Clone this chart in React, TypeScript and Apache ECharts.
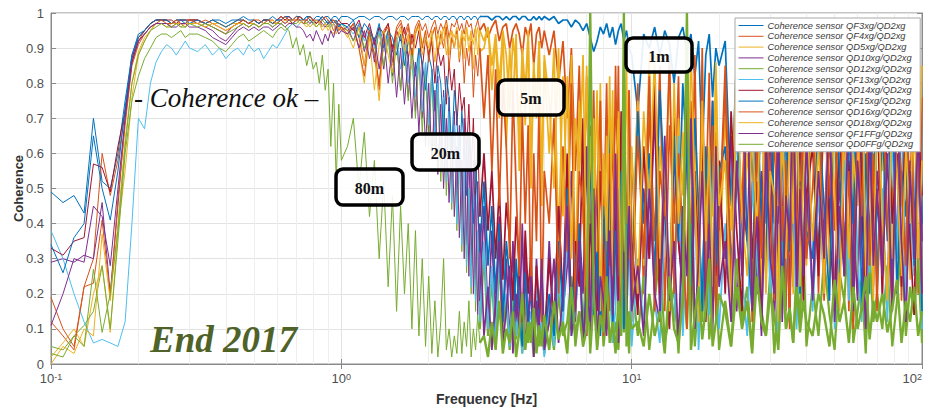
import React, { useEffect, useRef } from "react";
import * as echarts from "echarts";

// Frequency grid [Hz] shared by all sensors
const frequencies = [
  0.10, 0.11, 0.12, 0.13, 0.14, 0.15, 0.16, 0.17, 0.18, 0.19, 0.20, 0.21, 0.22, 0.23, 0.24, 0.25, 0.26, 0.27, 0.28, 0.29, 0.30,
  0.32, 0.34, 0.36, 0.38, 0.40, 0.42, 0.44, 0.46, 0.48, 0.50, 0.52, 0.54, 0.56, 0.58, 0.60, 0.62, 0.64, 0.66, 0.68, 0.70, 0.72, 0.74, 0.76, 0.78, 0.80, 0.82, 0.84, 0.86, 0.88, 0.90, 0.92, 0.94, 0.96, 0.98, 1.00,
  1.05, 1.10, 1.15, 1.20, 1.25, 1.30, 1.35, 1.40, 1.45, 1.50, 1.55, 1.60, 1.65, 1.70, 1.75, 1.80, 1.85, 1.90, 1.95, 2.00, 2.05, 2.10, 2.15, 2.20, 2.25, 2.30, 2.35, 2.40, 2.45, 2.50, 2.55, 2.60, 2.65, 2.70, 2.75, 2.80, 2.85, 2.90, 2.95, 3.00,
  3.1, 3.2, 3.3, 3.4, 3.5, 3.6, 3.7, 3.8, 3.9, 4.0, 4.1, 4.2, 4.3, 4.4, 4.5, 4.6, 4.7, 4.8, 4.9, 5.0,
  5.2, 5.4, 5.6, 5.8, 6.0, 6.2, 6.4, 6.6, 6.8, 7.0, 7.2, 7.4, 7.6, 7.8, 8.0, 8.2, 8.4, 8.6, 8.8, 9.0, 9.2, 9.4, 9.6, 9.8, 10,
  10.5, 11, 11.5, 12, 12.5, 13, 13.5, 14, 14.5, 15, 15.5, 16, 16.5, 17, 17.5, 18, 18.5, 19, 19.5, 20,
  21, 22, 23, 24, 25, 26, 27, 28, 29, 30, 31, 32, 33, 34, 35, 36, 37, 38, 39, 40,
  42, 44, 46, 48, 50, 52, 54, 56, 58, 60, 62, 64, 66, 68, 70,
  73, 76, 79, 82, 85, 88, 91, 94, 97, 100,
];
// index of 3.00 Hz: below it lines are drawn thin, above it the dense noisy part
const noiseStartIndex = 95;

// Coherence values in percent, one entry per frequency
const QF3 = [
  49,46,48,43,70,52,50,60,75,88,94,95,97,98,98,98,97,98,98,97,98,
  98,97,98,98,97,98,98,99,98,98,97,98,98,99,98,98,99,99,98,99,99,98,99,99,98,99,99,98,99,99,98,99,99,98,99,
  99,98,99,99,98,99,99,98,99,99,98,99,99,98,99,99,99,98,99,99,98,99,99,98,99,99,98,99,99,98,99,99,98,99,99,98,99,99,98,99,
  99,99,98,99,99,98,99,98,99,99,98,99,99,98,98,99,98,99,98,99,
  98,99,97,98,98,96,98,97,95,97,93,89,92,96,94,97,93,96,91,95,97,92,95,90,88,
  72,94,90,96,88,95,91,80,93,96,89,94,82,92,60,88,94,76,90,85,
  92,45,88,30,95,55,20,90,40,85,25,93,60,35,88,22,80,50,94,30,
  85,28,92,40,75,18,90,55,25,88,35,80,20,93,45,
  30,86,22,90,50,28,84,35,91,40,
];
const QF4 = [
  12,8,4,22,30,60,48,58,72,86,92,95,97,98,98,98,97,98,98,98,98,
  98,97,98,97,96,97,98,98,97,98,97,98,98,97,98,99,98,98,97,98,99,98,97,98,98,97,98,96,97,98,97,95,96,97,96,
  95,97,93,85,96,92,78,95,97,90,96,98,94,97,91,96,98,95,97,93,96,98,94,97,95,98,93,97,96,98,95,97,94,98,96,97,93,96,98,95,
  97,93,96,98,92,96,97,90,95,97,94,88,96,93,97,85,94,96,90,95,
  88,95,80,92,70,90,55,85,40,82,30,78,20,75,35,80,15,70,25,85,10,65,30,78,12,
  80,20,72,35,85,15,68,40,82,10,75,30,88,22,70,45,83,12,66,38,
  85,25,70,45,90,18,75,35,88,20,65,40,92,15,72,50,86,25,68,42,
  88,20,76,48,92,30,70,15,85,45,90,22,74,38,87,
  25,80,42,93,18,72,50,88,20,76,
];
const QD5 = [
  2,6,10,5,20,28,9,38,55,76,88,92,95,97,97,96,97,97,96,97,97,
  97,96,97,97,96,97,97,98,97,97,96,97,98,97,97,98,97,98,97,98,98,97,96,97,98,96,97,95,96,97,95,94,96,95,96,
  93,96,90,80,94,88,75,92,95,85,93,96,90,94,86,95,97,91,95,88,94,96,89,95,92,97,88,95,93,96,90,95,87,96,92,95,84,93,96,89,
  90,96,78,93,70,95,62,90,75,94,55,88,68,95,50,85,72,92,45,86,
  60,90,35,82,45,88,25,75,40,85,18,70,30,80,12,65,38,78,20,72,45,85,15,60,32,
  75,28,88,18,62,40,85,22,70,48,92,15,66,35,80,20,58,42,86,25,
  70,38,90,22,60,45,85,18,72,50,88,25,64,40,92,20,68,52,84,28,
  74,44,90,24,66,50,86,30,62,20,78,48,92,26,70,
  55,88,30,70,45,90,24,66,50,85,
];
const QD10 = [
  29,30,29,31,30,46,20,45,70,86,92,94,96,97,97,97,96,97,97,96,97,
  97,96,95,93,92,94,96,97,96,97,96,97,97,96,97,98,97,98,97,98,98,97,98,97,98,97,98,97,96,97,98,97,96,97,95,
  96,92,97,89,95,86,96,84,94,82,93,78,92,76,90,72,89,70,86,66,84,62,82,58,78,55,76,50,72,46,68,40,70,34,62,28,58,22,52,18,
  45,12,38,8,42,10,30,5,35,12,28,4,33,10,25,6,30,14,22,3,
  35,10,45,15,28,55,12,40,20,62,8,35,50,15,42,25,68,10,38,22,55,12,45,30,60,
  18,50,30,72,14,45,25,60,35,20,66,12,48,28,75,15,42,58,22,50,
  30,65,15,48,35,82,20,55,28,70,12,45,38,78,18,60,25,72,32,50,
  20,68,35,80,15,52,28,74,40,18,62,30,85,22,55,
  40,20,70,32,88,15,58,28,75,35,
];
const QD12 = [
  5,4,8,11,15,28,10,35,60,75,82,87,90,93,94,94,93,94,95,93,94,
  94,93,92,90,89,91,93,94,92,93,94,95,94,93,95,96,95,96,97,97,98,97,97,98,97,96,97,98,97,96,97,98,97,96,97,
  95,92,96,90,94,88,95,85,93,80,92,78,90,75,88,70,87,66,84,62,82,58,78,52,74,48,70,44,66,38,62,32,56,26,50,20,44,15,38,10,
  32,8,25,5,30,10,18,4,22,7,15,3,20,6,12,2,18,5,10,3,
  14,4,20,8,12,25,5,15,10,30,3,18,8,22,5,14,28,6,12,4,20,9,16,3,24,
  8,25,4,18,32,6,14,22,3,28,10,40,5,20,12,35,7,16,26,4,
  18,5,30,12,22,4,38,15,8,26,3,20,45,10,16,6,28,12,34,5,
  22,8,30,14,4,26,18,40,6,15,24,3,32,12,20,
  10,28,5,18,36,8,22,14,30,6,
];
const QF13 = [
  38,30,20,12,6,7,6,5,12,40,70,67,80,86,89,91,90,88,90,92,90,
  89,91,88,90,87,89,90,88,91,89,90,87,89,91,90,92,94,96,97,96,97,98,97,96,97,98,97,96,97,98,96,97,95,96,97,
  96,94,97,92,96,90,95,89,94,86,93,84,91,80,89,76,88,72,86,68,84,64,80,58,76,52,72,46,68,40,62,34,56,28,50,22,44,18,38,12,
  35,10,28,6,32,14,20,5,26,8,18,3,24,10,15,4,22,8,12,2,
  18,5,25,10,40,8,15,30,6,22,12,45,4,20,35,10,28,6,16,50,8,24,12,38,5,
  30,10,55,18,6,42,25,12,65,8,35,20,50,4,28,45,14,60,22,10,
  40,15,70,25,8,52,30,12,62,20,45,6,75,35,18,55,10,42,28,66,
  15,48,22,80,10,38,58,18,70,30,12,54,26,85,20,
  50,12,66,30,85,18,45,25,72,10,
];
const QD14 = [
  33,31,35,36,57,56,49,62,72,87,93,95,97,98,98,98,98,97,98,98,98,
  98,97,96,95,94,96,97,98,97,98,97,98,98,97,98,99,98,99,98,98,99,98,98,99,98,97,98,99,98,97,98,98,97,98,97,
  97,95,98,93,97,91,96,94,97,89,95,92,96,87,94,90,95,84,93,88,92,80,90,85,88,74,86,78,84,68,80,72,76,60,74,55,70,48,65,42,
  60,38,55,30,50,24,46,35,18,42,28,12,38,20,32,8,28,15,25,6,
  30,10,45,18,60,12,35,22,70,8,40,25,15,55,30,10,65,20,45,12,72,28,18,50,35,
  14,62,30,80,20,48,10,70,35,22,85,15,55,30,68,12,40,75,25,58,
  20,72,38,15,88,30,52,10,65,42,20,80,35,55,12,70,28,90,18,48,
  62,25,85,40,15,70,32,58,12,88,45,20,66,36,78,
  18,75,40,60,22,82,35,14,68,48,
];
const QF15 = [
  34,26,36,40,65,50,41,55,73,88,93,95,97,98,98,98,97,98,98,98,97,
  98,97,98,97,96,97,98,98,97,98,97,98,98,97,98,98,99,98,98,99,98,98,99,98,97,98,98,99,98,97,98,97,98,96,97,
  96,98,93,97,95,92,97,90,95,93,88,94,85,92,89,82,90,86,78,88,84,72,85,80,66,82,76,60,78,70,55,72,62,48,66,52,40,58,45,32,
  52,28,45,20,40,12,35,24,8,30,15,5,26,10,22,4,18,12,28,6,
  20,8,35,15,50,10,28,40,6,22,60,14,32,8,45,20,70,12,38,25,55,10,30,65,18,
  72,40,60,25,78,50,18,65,35,80,58,22,70,45,15,62,38,75,28,55,
  62,28,50,82,35,15,70,45,25,88,40,60,18,75,32,52,85,20,58,38,
  30,72,45,18,85,55,25,68,40,90,15,60,35,78,22,
  68,35,80,20,55,42,90,28,62,15,
];
const QD16 = [
  19,10,5,22,23,41,19,47,68,85,91,94,96,97,98,97,97,98,97,97,98,
  97,98,97,96,95,96,97,98,97,98,98,97,98,98,97,98,99,98,98,99,98,97,98,99,98,98,97,98,99,98,97,98,97,95,96,
  94,97,90,82,95,88,80,94,96,86,95,97,92,96,88,94,97,90,95,86,93,96,88,94,90,96,84,93,90,95,86,93,80,90,85,92,76,88,82,90,
  70,88,55,84,45,80,62,30,78,50,25,72,40,68,18,60,35,75,12,55,
  40,70,20,62,32,80,15,55,45,10,68,28,50,75,8,42,60,22,85,35,12,58,40,78,18,
  65,30,82,15,55,42,88,20,60,35,10,75,48,25,90,18,52,68,12,40,
  78,22,55,40,92,12,62,30,75,48,18,85,35,58,10,70,45,25,82,30,
  50,85,18,65,38,92,25,55,10,72,42,80,28,60,15,
  82,40,15,70,52,28,88,35,60,20,
];
const QD18 = [
  0,5,3,10,8,37,18,40,64,80,89,93,95,97,97,97,96,97,97,96,97,
  97,96,97,96,95,96,97,97,96,97,96,97,97,98,97,97,98,97,98,98,97,98,97,96,97,98,97,96,97,95,96,97,94,96,95,
  94,90,96,85,93,78,91,95,88,83,92,95,89,93,84,94,96,88,93,90,95,86,94,91,96,88,93,95,90,94,87,95,92,96,89,94,91,96,88,95,
  92,96,85,94,80,95,88,72,93,84,65,90,78,94,58,86,70,92,52,88,
  75,50,90,42,82,30,70,55,88,22,65,40,78,15,60,35,82,25,55,70,18,48,85,30,62,
  20,72,45,88,30,58,15,80,40,66,25,90,50,12,75,35,62,22,84,45,
  58,15,80,42,25,70,35,90,20,55,48,12,78,30,65,40,88,22,52,72,
  35,62,20,88,48,15,75,30,60,45,92,25,55,18,82,
  42,18,78,55,25,62,40,85,30,58,
];
const QF1FF = [
  11,20,30,29,45,42,28,50,70,86,92,94,96,97,97,97,96,96,97,97,96,
  96,95,93,92,91,93,95,96,95,96,95,96,96,95,96,97,96,97,97,96,96,95,93,94,92,95,93,91,94,92,95,93,96,94,95,
  94,96,90,95,87,93,84,94,80,91,76,90,74,88,70,86,66,84,62,80,58,78,54,74,50,70,46,66,42,62,36,58,30,64,25,55,20,48,14,40,
  8,22,4,18,35,6,15,28,3,20,10,40,5,14,25,2,18,8,30,4,
  12,30,6,20,45,8,16,35,5,22,12,50,4,25,18,8,38,14,60,6,20,32,10,45,15,
  28,8,50,20,12,65,18,35,6,45,25,70,10,30,55,15,40,8,62,22,
  35,12,58,25,80,15,42,8,60,30,20,72,12,48,35,85,18,50,25,65,
  18,55,30,75,12,45,25,82,15,58,35,10,68,28,50,
  25,60,15,78,35,12,55,30,70,20,
];
const QD0FF = [
  3,2,8,5,27,9,20,38,62,80,88,92,95,96,97,96,96,97,96,96,97,
  96,97,96,95,94,95,96,97,96,97,96,97,97,96,97,97,96,95,90,93,88,91,85,89,84,86,80,88,78,84,62,80,52,74,58,
  62,70,50,66,42,58,30,52,22,48,15,45,20,40,10,38,8,30,5,25,3,18,2,12,30,4,10,2,8,3,15,3,12,5,18,2,10,4,14,6,
  8,2,12,4,18,3,10,6,15,2,9,20,4,12,6,16,3,11,5,14,
  4,18,7,12,3,22,8,15,5,10,100,20,4,14,9,25,6,12,3,18,8,100,5,15,10,
  12,5,20,8,15,3,25,10,6,18,100,4,14,22,7,16,30,5,12,20,
  15,5,22,10,18,3,25,12,8,20,14,4,28,10,16,6,22,9,18,12,
  8,20,14,5,24,12,18,6,22,10,16,25,7,18,12,
  20,9,16,24,6,18,12,22,8,15,
];

const sensorNames = [
  "QF3xg", "QF4xg", "QD5xg", "QD10xg", "QD12xg", "QF13xg",
  "QD14xg", "QF15xg", "QD16xg", "QD18xg", "QF1FFg", "QD0FFg",
];
const sensorValues = [QF3, QF4, QD5, QD10, QD12, QF13, QD14, QF15, QD16, QD18, QF1FF, QD0FF];
const sensorColors = [
  "#0072BD", "#D95319", "#EDB120", "#7E2F8E", "#77AC30", "#4DBEEE",
  "#A2142F", "#0072BD", "#D95319", "#EDB120", "#7E2F8E", "#77AC30",
];
// line width of each sensor in the dense (noisy) high-frequency part
const noiseLineWidths = [1.7, 1.7, 1.7, 1.7, 2.2, 1.7, 1.7, 1.7, 1.7, 1.7, 1.7, 2.4];
const minorGridFrequencies = [
  0.2, 0.3, 0.4, 0.5, 0.6, 0.7, 0.8, 0.9,
  2, 3, 4, 5, 6, 7, 8, 9,
  20, 30, 40, 50, 60, 70, 80, 90,
];
const distanceLabels = ["1m", "5m", "20m", "80m"];

const SANS = "Liberation Sans, Arial, Helvetica, sans-serif";
const SERIF = "Liberation Serif, Times New Roman, serif";

export default function App() {
  const ref = useRef<HTMLDivElement | null>(null);

  useEffect(() => {
    if (!ref.current) return;
    const chart = echarts.init(ref.current, undefined, { renderer: "svg" });

    const legendNames = sensorNames.map((s) => `Coherence sensor ${s}/QD2xg`);

    const lineSeries = (k: number, from: number, to: number, width: number) => ({
      type: "line",
      name: legendNames[k],
      data: frequencies.slice(from, to).map((f, i) => [f, sensorValues[k][from + i] / 100]),
      symbol: "none",
      showSymbol: false,
      silent: true,
      z: 2,
      lineStyle: { width, color: sensorColors[k] },
      itemStyle: { color: sensorColors[k] },
      emphasis: { disabled: true },
    });

    const series: any[] = [
      {
        type: "line",
        name: "_grid",
        data: [],
        silent: true,
        z: 1,
        markLine: {
          silent: true,
          z: 1,
          symbol: ["none", "none"],
          label: { show: false },
          lineStyle: { color: "#eeeeee", width: 1, type: "solid" },
          emphasis: { disabled: true },
          data: minorGridFrequencies.map((v) => ({ xAxis: v })),
        },
      },
      ...sensorValues.map((_, k) => lineSeries(k, 0, noiseStartIndex + 1, 1)),
      ...sensorValues.map((_, k) =>
        lineSeries(k, noiseStartIndex, frequencies.length, noiseLineWidths[k])
      ),
    ];

    const boxes = [
      { x: 626, y: 38, w: 66, h: 34 },
      { x: 498, y: 80, w: 66, h: 35 },
      { x: 412, y: 134, w: 67, h: 36 },
      { x: 336, y: 169, w: 67, h: 36 },
    ];

    const graphic: any[] = [];
    boxes.forEach((b, i) => {
      graphic.push({
        type: "rect",
        z: 100,
        shape: { x: b.x, y: b.y, width: b.w, height: b.h, r: 7 },
        style: { fill: "rgba(255,255,255,0.9)", stroke: "#000", lineWidth: 3.5 },
      });
      graphic.push({
        type: "text",
        z: 101,
        x: b.x + b.w / 2,
        y: b.y + b.h / 2 + 1,
        style: {
          text: distanceLabels[i],
          fontFamily: SERIF,
          fontWeight: "bold",
          fontSize: 16,
          fill: "#111",
          align: "center",
          verticalAlign: "middle",
        },
      });
    });
    graphic.push({
      type: "text",
      z: 101,
      x: 134,
      y: 98,
      style: {
        text: "- Coherence ok –",
        fontFamily: SERIF,
        fontStyle: "italic",
        fontSize: 27,
        fill: "#111",
        align: "left",
        verticalAlign: "middle",
      },
    });
    graphic.push({
      type: "text",
      z: 101,
      x: 150,
      y: 339,
      style: {
        text: "End 2017",
        fontFamily: SERIF,
        fontStyle: "italic",
        fontWeight: "bold",
        fontSize: 37,
        fill: "#4F6228",
        align: "left",
        verticalAlign: "middle",
      },
    });

    const axisGray = "#8a8a8a";
    const labelGray = "#505050";

    chart.setOption({
      animation: false,
      backgroundColor: "#ffffff",
      textStyle: { fontFamily: SANS },
      grid: {
        left: 51,
        right: 6,
        top: 13,
        bottom: 44,
        containLabel: false,
        outerBoundsMode: "none",
        show: true,
        borderColor: axisGray,
        borderWidth: 1,
        backgroundColor: "#ffffff",
      },
      legend: {
        data: legendNames,
        orient: "vertical",
        left: 735,
        top: 18,
        padding: [3, 7, 3, 3],
        itemWidth: 25,
        itemHeight: 10,
        itemGap: 1.8,
        backgroundColor: "#ffffff",
        borderColor: "#a8a8a8",
        borderWidth: 1,
        selectedMode: false,
        itemStyle: { opacity: 0 },
        lineStyle: { width: 1 },
        textStyle: {
          fontFamily: SANS,
          fontStyle: "italic",
          fontSize: 9.3,
          color: "#3c3c3c",
          padding: [0, 0, 0, -1],
        },
      },
      xAxis: [
        {
          type: "log",
          logBase: 10,
          min: 0.1,
          max: 100,
          position: "bottom",
          name: "Frequency [Hz]",
          nameLocation: "middle",
          nameGap: 28,
          nameMoveOverlap: false,
          nameTextStyle: { fontFamily: SANS, fontWeight: "bold", fontSize: 14, color: "#333" },
          axisLine: { show: true, lineStyle: { color: axisGray } },
          axisTick: { show: true, inside: true, length: 5, lineStyle: { color: axisGray } },
          axisLabel: {
            margin: 8,
            color: labelGray,
            alignMaxLabel: "right",
            formatter: (v: number) => `{b|10}{s|${Math.round(Math.log10(v))}}`,
            rich: {
              b: { fontSize: 13, color: labelGray, fontFamily: SANS },
              s: { fontSize: 9, color: labelGray, fontFamily: SANS, verticalAlign: "top" },
            },
          },
          splitLine: { show: true, lineStyle: { color: "#e2e2e2", width: 1 } },
        },
        {
          type: "log",
          logBase: 10,
          min: 0.1,
          max: 100,
          position: "top",
          axisLine: { show: true, lineStyle: { color: axisGray } },
          axisTick: { show: true, inside: true, length: 5, lineStyle: { color: axisGray } },
          axisLabel: { show: false },
          splitLine: { show: false },
        },
      ],
      yAxis: [
        {
          type: "value",
          min: 0,
          max: 1,
          interval: 0.1,
          position: "left",
          name: "Coherence",
          nameLocation: "middle",
          nameGap: 26,
          nameMoveOverlap: false,
          nameTextStyle: { fontFamily: SANS, fontWeight: "bold", fontSize: 13, color: "#333" },
          axisLine: { show: true, lineStyle: { color: axisGray } },
          axisTick: { show: true, inside: true, length: 5, lineStyle: { color: axisGray } },
          axisLabel: { margin: 7, color: labelGray, fontSize: 13, fontFamily: SANS },
          splitLine: { show: true, lineStyle: { color: "#e2e2e2", width: 1 } },
        },
        {
          type: "value",
          min: 0,
          max: 1,
          interval: 0.1,
          position: "right",
          axisLine: { show: true, lineStyle: { color: axisGray } },
          axisTick: { show: true, inside: true, length: 5, lineStyle: { color: axisGray } },
          axisLabel: { show: false },
          splitLine: { show: false },
        },
      ],
      series,
      graphic,
    });

    return () => {
      chart.dispose();
    };
  }, []);

  return (
    <div
      ref={ref}
      style={{ position: "fixed", left: 0, top: 0, width: 928, height: 408, background: "#fff" }}
    />
  );
}
